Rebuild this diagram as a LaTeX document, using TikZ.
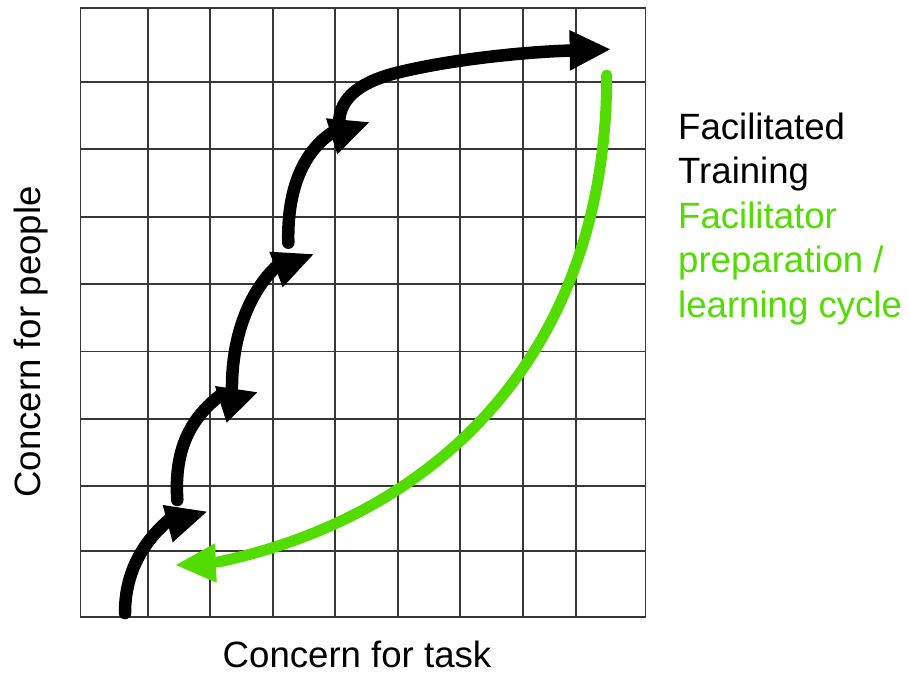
\documentclass[tikz,border=0pt]{standalone}
\usepackage{fontspec}
\setmainfont{Liberation Sans}
\definecolor{arcgreen}{RGB}{82,220,0}
\definecolor{gridgray}{RGB}{55,55,55}
\begin{document}
\begin{tikzpicture}[x=1pt,y=-1pt,
  gridline/.style={draw=gridgray, line width=1.8pt},
  blackarc/.style={draw=black, line width=12.5pt, line cap=round},
  greenarc/.style={draw=arcgreen, line width=11pt, line cap=round},
  headblack/.style={fill=black},
  headgreen/.style={fill=arcgreen},
  lbl/.style={font=\fontsize{36.6}{44.5}\selectfont, inner sep=0pt}]
\useasboundingbox (0,0) rectangle (909,673);
\fill[white] (0,0) rectangle (909,673);
% grid
\foreach \x in {148,210,273,335,398,460,522.7,576}
  \draw[gridline] (\x,8.3) -- (\x,616.8);
\foreach \y in {81.7,149.3,216.7,284,351.5,419,486,550.7}
  \draw[gridline] (80.5,\y) -- (645.5,\y);
\draw[gridline] (80.5,8.3) rectangle (645.5,616.8);
% black arcs
\draw[blackarc] (125,613) .. controls (125,570) and (145,540) .. (170,519);
\fill[headblack] (162.7,505) -- (206.7,511.7) -- (172.7,542.3) -- cycle;
\draw[blackarc] (177.3,500) .. controls (174,450) and (190,418) .. (222,394);
\fill[headblack] (215,386) -- (257.3,392.3) -- (226.7,422.7) -- cycle;
\draw[blackarc] (232,392) .. controls (231,340) and (248,292) .. (278,265);
\fill[headblack] (269.3,251.7) -- (313.3,254.3) -- (282.7,287.3) -- cycle;
\draw[blackarc] (288.3,242.7) .. controls (287,192) and (302,152) .. (333,132);
\fill[headblack] (326,118.3) -- (369,122.3) -- (337.3,154.3) -- cycle;
\draw[blackarc, line cap=butt] (339,124) .. controls (339,95) and (365,80.4) .. (400,72)
  .. controls (450,60) and (520,52) .. (572,50.5);
\fill[headblack] (569.3,30) -- (610,49.3) -- (570,70.7) -- cycle;
% green arc
\draw[greenarc] (606.7,75) .. controls (607,350) and (440,515) .. (218,562);
\fill[headgreen] (215,543.3) -- (176,565) -- (216.7,582.7) -- cycle;
% labels
\node[lbl, anchor=base west] (t1) at (678,139.3) {Facilitated};
\node[lbl, anchor=base west] (t2) at (678,183.8) {Training};
\node[lbl, anchor=base west, text=arcgreen] (t3) at (678,228.3) {Facilitator};
\node[lbl, anchor=base west, text=arcgreen] (t4) at (678,272.8) {preparation /};
\node[lbl, anchor=base west, text=arcgreen] (t5) at (678,317.3) {learning cycle};
\node[lbl, anchor=base] (xl) at (357,667) {Concern for task};
\node[lbl, anchor=base, rotate=90] (yl) at (40.5,342) {Concern for people};
\end{tikzpicture}
\end{document}
